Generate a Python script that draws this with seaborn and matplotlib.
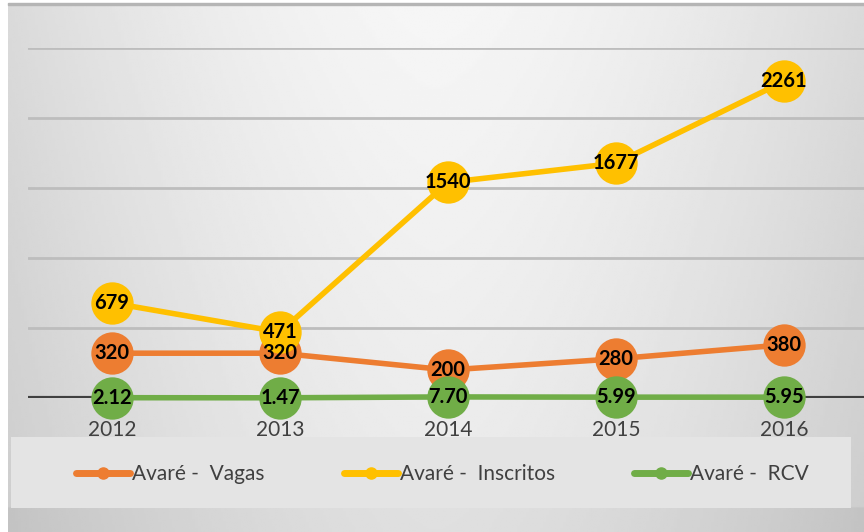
import matplotlib.pyplot as plt
import numpy as np
import pandas as pd
import seaborn as sns
from matplotlib.patches import Rectangle
from matplotlib.lines import Line2D

years = ["2012", "2013", "2014", "2015", "2016"]
vagas = [320, 320, 200, 280, 380]
inscritos = [679, 471, 1540, 1677, 2261]
rcv = [2.12, 1.47, 7.70, 5.99, 5.95]
series_names = ["Avaré -  Vagas", "Avaré -  Inscritos", "Avaré -  RCV"]
colors = ["#ED7D31", "#FFC000", "#70AD47"]

sns.set_theme(style="white")
plt.rcParams["font.family"] = ["Lato", "DejaVu Sans"]

df = pd.DataFrame({"pos": range(len(years)), "year": years,
                   series_names[0]: vagas, series_names[1]: inscritos, series_names[2]: rcv})
long_df = df.melt(id_vars=["pos", "year"], var_name="serie", value_name="valor")

W, H = 864, 532
fig = plt.figure(figsize=(W / 100, H / 100), dpi=100, facecolor="white")

# gray gradient background of the chart area
bg = fig.add_axes([8 / W, 0, 1 - 8 / W, 1 - 3 / H])
X, Y = np.meshgrid(np.linspace(-1, 1, 300), np.linspace(0, 1, 300))
shade = 0.965 - 0.11 * np.abs(X) ** 1.6 - 0.05 * (1 - Y)
shade[Y < 0.045] -= 0.04
bg.imshow(shade, cmap="gray", vmin=0, vmax=1, origin="lower", aspect="auto",
          extent=[0, 1, 0, 1])
bg.set_axis_off()
fig.add_artist(Rectangle((8 / W, 1 - 5 / H), 1, 2 / H, transform=fig.transFigure,
                         color="#b5b5b5", zorder=2))

# legend box
fig.add_artist(Rectangle((11 / W, (H - 508) / H), 840 / W, 71 / H, transform=fig.transFigure,
                         facecolor="#e4e4e4", edgecolor="none", zorder=1))

ax = fig.add_axes([28 / W, 1 - 398 / H, 840 / W, 350 / H])
ax.patch.set_alpha(0)
ax.set_xlim(-0.5, 4.5)
ax.set_ylim(0, 2500)
ax.set_yticks([0, 500, 1000, 1500, 2000, 2500])
ax.yaxis.grid(True, color="#bdbdbd", lw=2)
ax.set_axisbelow(True)
ax.axhline(0, color="#404040", lw=3, zorder=1)
for s in ax.spines.values():
    s.set_visible(False)

sns.lineplot(data=long_df, x="pos", y="valor", hue="serie", hue_order=series_names,
             palette=colors, marker="o", markersize=30.5, markeredgewidth=0, lw=4,
             legend=False, ax=ax, clip_on=False, zorder=3)

for name, vals in zip(series_names, [vagas, inscritos, rcv]):
    for i, v in enumerate(vals):
        txt = f"{v:.2f}" if name == series_names[2] else f"{v}"
        ax.text(i, v, txt, ha="center", va="center", fontsize=14.5, fontweight="bold",
                color="black", zorder=5)

ax.set_xticks(range(len(years)), years)
ax.set_yticklabels([])
ax.tick_params(axis="x", length=0, labelsize=15, colors="#404040", pad=16)
ax.tick_params(axis="y", length=0)
ax.xaxis.set_zorder(4)
ax.set_xlabel("")
ax.set_ylabel("")

handles = [Line2D([], [], color=c, lw=5, marker="o", markersize=8) for c in colors]
fig.legend(handles, series_names, loc="center", bbox_to_anchor=(0.512, (H - 474) / H),
           ncol=3, frameon=False, fontsize=15, handlelength=2.6, handletextpad=0.1,
           columnspacing=3.8, labelcolor="#404040")

fig.savefig("out.png", dpi=100)
